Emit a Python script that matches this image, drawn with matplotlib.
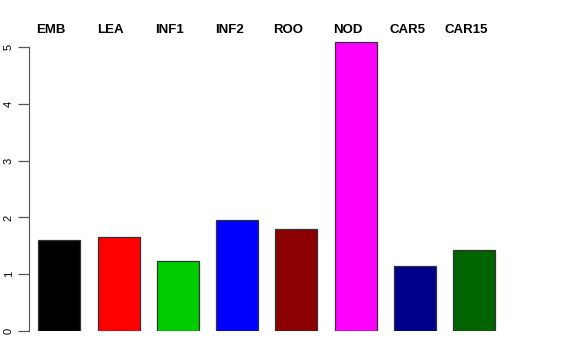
import matplotlib.pyplot as plt

labels = ["EMB", "LEA", "INF1", "INF2", "ROO", "NOD", "CAR5", "CAR15"]
values = [1.60, 1.66, 1.235, 1.96, 1.80, 5.08, 1.14, 1.43]
colors = ["black", "red", "#00CD00", "blue", "#8B0000", "magenta", "#00008B", "#006400"]

plt.rcParams['font.family'] = ['Liberation Sans', 'DejaVu Sans']

fig = plt.figure(figsize=(5.76, 3.6), dpi=100)
# axes box placed in pixel terms: x 29..560, y 30..331 (from top)
ax = fig.add_axes([29 / 576, 29 / 360, (560 - 29) / 576, (331 - 30) / 360])

x = list(range(len(values)))
ax.bar(x, values, width=0.708, color=colors, edgecolor="#333333", linewidth=0.9)

ax.set_xlim(-0.511, 8.444)
ax.set_ylim(0, 5.3)

for s in ["top", "right", "bottom"]:
    ax.spines[s].set_visible(False)
ax.spines["left"].set_bounds(0, 5)
ax.spines["left"].set_color("#555555")
ax.set_xticks([])
ax.set_yticks([0, 1, 2, 3, 4, 5])
ax.set_yticklabels(["0", "1", "2", "3", "4", "5"], rotation=90, va="center")
ax.tick_params(axis="y", length=8, width=0.9, color="#555555", labelsize=8, pad=3)

for i, lab in enumerate(labels):
    ax.text(i - 0.135, 5.30, lab, ha="center", va="center", fontsize=9.5,
            fontweight="bold", clip_on=False)

fig.savefig("out.png")
